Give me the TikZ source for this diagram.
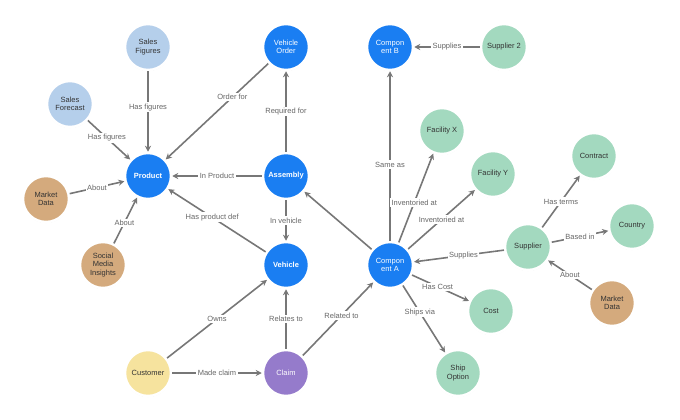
\documentclass[tikz,border=0pt]{standalone}
\usepackage{fontspec}
\setmainfont{Liberation Sans}
\usetikzlibrary{arrows.meta,shadows}
\definecolor{cblue}{HTML}{1A7EF2}
\definecolor{clb}{HTML}{B5CFEB}
\definecolor{cgr}{HTML}{A3D9BF}
\definecolor{ctan}{HTML}{D4AA7D}
\definecolor{cyel}{HTML}{F6E39E}
\definecolor{cpur}{HTML}{957BCB}
\definecolor{cedge}{HTML}{777777}
\begin{document}
\begin{tikzpicture}[x=1pt,y=-1pt,
 n/.style={circle,minimum size=46pt,inner sep=0pt,draw=white,line width=2.5pt,align=center,font=\fontsize{7.5}{8.5}\selectfont,drop shadow={opacity=0.18,shadow xshift=0pt,shadow yshift=-1pt}},
 nb/.style={n,fill=cblue,text=white},
 nlb/.style={n,fill=clb,text=black!80},
 ng/.style={n,fill=cgr,text=black!80},
 nt/.style={n,fill=ctan,text=black!80},
 ny/.style={n,fill=cyel,text=black!80},
 np/.style={n,fill=cpur,text=white},
 e/.style={draw=cedge,line width=1.6pt,-{Stealth[length=6pt,width=6pt]}},
 l/.style={fill=white,inner sep=1.5pt,text=black!60,font=\fontsize{7.5}{8.5}\selectfont}]
\useasboundingbox (0,0) rectangle (680,420);
\node[nlb] (sf) at (148,47) {Sales\\Figures};
\node[nb] (vo) at (286,47) {Vehicle\\Order};
\node[nb] (cb) at (390,47) {Compon\\ent B};
\node[ng] (s2) at (504,47) {Supplier 2};
\node[nlb] (sfo) at (70,104) {Sales\\Forecast};
\node[ng] (fx) at (442,131) {Facility X};
\node[ng] (ct) at (594,156) {Contract};
\node[nb] (pr) at (148,176) {\textbf{Product}};
\node[nb] (as) at (286,176) {\textbf{Assembly}};
\node[ng] (fy) at (493,174) {Facility Y};
\node[nt] (md) at (46,199) {Market\\Data};
\node[ng] (co) at (632,226) {Country};
\node[ng] (su) at (528,247) {Supplier};
\node[nb] (ca) at (390,265) {Compon\\ent A};
\node[nb] (ve) at (286,265) {\textbf{Vehicle}};
\node[nt] (sm) at (103,265) {Social\\Media\\Insights};
\node[ng] (cost) at (491,311) {Cost};
\node[nt] (md2) at (612,303) {Market\\Data};
\node[ny] (cu) at (148,373) {Customer};
\node[np] (cl) at (286,373) {Claim};
\node[ng] (so) at (458,373) {Ship\\Option};

\draw[e] (sf) -- node[l,pos=0.45]{Has figures} (pr);
\draw[e] (sfo) -- node[l,pos=0.45]{Has figures} (pr);
\draw[e] (md) -- node[l]{About} (pr);
\draw[e] (sm) -- node[l,pos=0.45]{About} (pr);
\draw[e] (vo) -- node[l,pos=0.35]{Order for} (pr);
\draw[e] (as) -- node[l]{In Product} (pr);
\draw[e] (ve) -- node[l,pos=0.55]{Has product def} (pr);
\draw[e] (as) -- node[l]{Required for} (vo);
\draw[e] (as) -- node[l]{In vehicle} (ve);
\draw[e] (ca) -- (as);
\draw[e] (ca) -- node[l,pos=0.45]{Same as} (cb);
\draw[e] (s2) -- node[l]{Supplies} (cb);
\draw[e] (ca) -- node[l,pos=0.45]{Inventoried at} (fx);
\draw[e] (ca) -- node[l,pos=0.5]{Inventoried at} (fy);
\draw[e] (su) -- node[l,pos=0.45]{Supplies} (ca);
\draw[e] (ca) -- node[l,pos=0.45]{Has Cost} (cost);
\draw[e] (ca) -- node[l,pos=0.4]{Ships via} (so);
\draw[e] (su) -- node[l]{Has terms} (ct);
\draw[e] (su) -- node[l]{Based in} (co);
\draw[e] (md2) -- node[l]{About} (su);
\draw[e] (cu) -- node[l]{Owns} (ve);
\draw[e] (cu) -- node[l]{Made claim} (cl);
\draw[e] (cl) -- node[l]{Relates to} (ve);
\draw[e] (cl) -- node[l,pos=0.55]{Related to} (ca);
\end{tikzpicture}
\end{document}
